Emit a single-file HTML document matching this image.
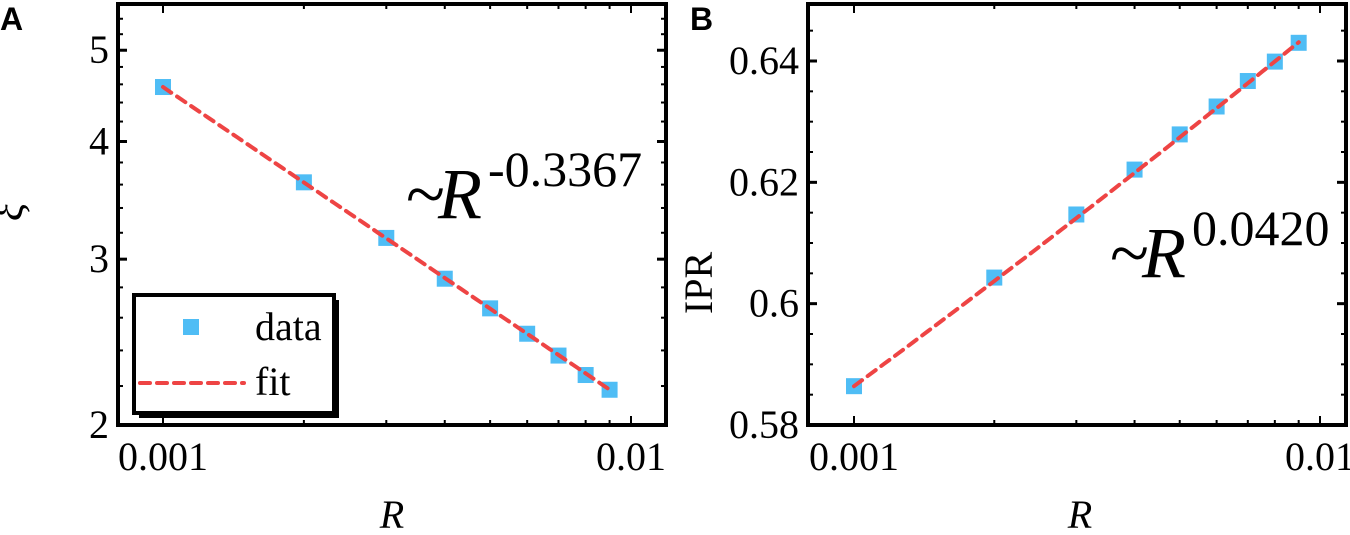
<!DOCTYPE html>
<html><head><meta charset="utf-8"><style>
html,body{margin:0;padding:0;background:#fff;}
svg{display:block;}
</style></head><body>
<svg id="c" width="1350" height="535" viewBox="0 0 1350 535" font-family="Liberation Serif, serif"></svg>
<script>
const categoriesR = [0.001,0.002,0.003,0.004,0.005,0.006,0.007,0.008,0.009];
const xiValues = [4.57,3.62,3.16,2.86,2.66,2.50,2.37,2.26,2.18];
const iprValues = [0.5864,0.6043,0.6147,0.6221,0.6279,0.6325,0.6367,0.6399,0.6430];
const xiExponent = -0.3367;
const iprExponent = 0.0420;
const xTickLabels = ["0.001","0.01"];
const xiTickValues = [2,3,4,5];
const iprTickValues = [0.58,0.6,0.62,0.64];
const iprTickLabels = ["0.58","0.6","0.62","0.64"];

const NS="http://www.w3.org/2000/svg";
const svg=document.getElementById('c');
const SERIF='"Liberation Serif", serif';
function mk(tag,attrs,parent){const e=document.createElementNS(NS,tag);if(tag==='text')e.setAttribute('style','font-family:'+SERIF);for(const k in attrs)e.setAttribute(k,attrs[k]);(parent||svg).appendChild(e);return e;}

function panel(o){
  const g=mk('g',{});
  
  
  const L=o.left,R=o.right,T=4,B=425;
  const xs=v=>o.x0+(Math.log10(v)+3)*(o.x1-o.x0);
  const ys=o.ys;
  for(let d=-3;d<=-2;d++)for(let m=1;m<=9;m++){const v=m*Math.pow(10,d);const x=xs(v);if(x<L||x>R)continue;const len=m===1?9:5;
    const t=mk('line',{x1:x,x2:x,y1:B,y2:B-len,stroke:'#000','stroke-width':2},g);
    mk('line',{x1:x,x2:x,y1:T,y2:T+len,stroke:'#000','stroke-width':2},g);}
  o.minorY.forEach(v=>{const y=ys(v);if(y<T||y>B)return;mk('line',{x1:L,x2:L+5,y1:y,y2:y,stroke:'#000','stroke-width':2},g);mk('line',{x1:R,x2:R-5,y1:y,y2:y,stroke:'#000','stroke-width':2},g);});
  o.yTicks.forEach((v,i)=>{const y=ys(v);
    const t=mk('line',{x1:L,x2:L+9,y1:y,y2:y,stroke:'#000','stroke-width':3},g);
    mk('line',{x1:R,x2:R-9,y1:y,y2:y,stroke:'#000','stroke-width':3},g);
    const tx=mk('text',{x:L-9,y:y+13,'font-size':40,'text-anchor':'end'},g);tx.textContent=o.yLabels[i];
    });
  [0.001,0.01].forEach((v,i)=>{const tx=mk('text',{x:xs(v),y:470,'font-size':40,'text-anchor':'middle'},g);tx.textContent=xTickLabels[i];
    });
  const fr=mk('rect',{x:L,y:T,width:R-L,height:B-T,fill:'none',stroke:'#000','stroke-width':4},g);
  
  const a=o.vals[0]/Math.pow(categoriesR[0],o.exp);
  let d='';const n=60;const r0=categoriesR[0],r1=categoriesR[categoriesR.length-1];
  for(let i=0;i<=n;i++){const r=r0*Math.pow(r1/r0,i/n);d+=(i?'L':'M')+xs(r).toFixed(1)+','+ys(a*Math.pow(r,o.exp)).toFixed(1);}
  categoriesR.forEach((r,i)=>{const p=mk('rect',{x:xs(r)-8,y:ys(o.vals[i])-8,width:16,height:16,fill:'#4fbdf5'},g);
    });
  const f=mk('path',{d:d,fill:'none',stroke:'#ee4444','stroke-width':4,'stroke-dasharray':'10 7','stroke-linecap':'round'},g);
  
  const xl=mk('text',{x:o.xlabX,y:528,'font-size':40,'font-style':'italic','text-anchor':'middle'},g);xl.textContent='R';
  
  return {g,xs,ys};
}

const A=panel({name:'panel-a',left:118,right:666,x0:163,x1:631,
  ys:v=>425-409*Math.log(v/2),yTicks:xiTickValues,yLabels:xiTickValues.map(String),
  minorY:[2.2,2.4,2.6,2.8,3.2,3.4,3.6,3.8,4.2,4.4,4.6,4.8,5.2,5.4],vals:xiValues,exp:xiExponent,xlabX:392});
const B=panel({name:'panel-b',left:808,right:1346,x0:854,x1:1320,
  ys:v=>425-(v-0.58)/0.06*364,yTicks:iprTickValues,yLabels:iprTickLabels,
  minorY:[0.585,0.59,0.595,0.605,0.61,0.615,0.625,0.63,0.635,0.645],vals:iprValues,exp:iprExponent,xlabX:1080});

const lg=mk('g',{});
mk('rect',{x:139,y:300,width:200,height:118,fill:'#000'},lg);
mk('rect',{x:134,y:295,width:200,height:118,fill:'#fff',stroke:'#000','stroke-width':4},lg);
const lm=mk('rect',{x:183,y:319,width:16,height:16,fill:'#4fbdf5'},lg);
let t=mk('text',{x:255,y:340,'font-size':40},lg);t.textContent='data';
mk('line',{x1:140,x2:244,y1:383,y2:383,stroke:'#ee4444','stroke-width':4,'stroke-dasharray':'10 7','stroke-linecap':'round'},lg);
t=mk('text',{x:255,y:395,'font-size':40},lg);t.textContent='fit';

function annot(x,y,sup,name,parent){
  const t1=mk('text',{x:x,y:y,'font-size':72},parent);t1.textContent='~';
  
  const t2=mk('text',{x:x+32,y:y,'font-size':72,'font-style':'italic'},parent);t2.textContent='R';
  
  const t3=mk('text',{x:x+82,y:y-32,'font-size':50},parent);t3.textContent=sup;
  
}
annot(406,218,'-0.3367','fit-annotation-a',A.g);
annot(1110,277,'0.0420','fit-annotation-b',B.g);

t=mk('text',{x:22,y:212,'font-size':42,'font-style':'italic','text-anchor':'middle',transform:'rotate(-90 22 212)'});t.textContent='ξ';

t=mk('text',{x:712,y:283,'font-size':40,'text-anchor':'middle',transform:'rotate(-90 712 283)'});t.textContent='IPR';

t=mk('text',{x:0,y:30,'font-size':32,'font-weight':'bold'});t.setAttribute('style','font-family:"Liberation Sans", sans-serif');t.textContent='A';

t=mk('text',{x:690,y:30,'font-size':32,'font-weight':'bold'});t.setAttribute('style','font-family:"Liberation Sans", sans-serif');t.textContent='B';

</script>
</body></html>
